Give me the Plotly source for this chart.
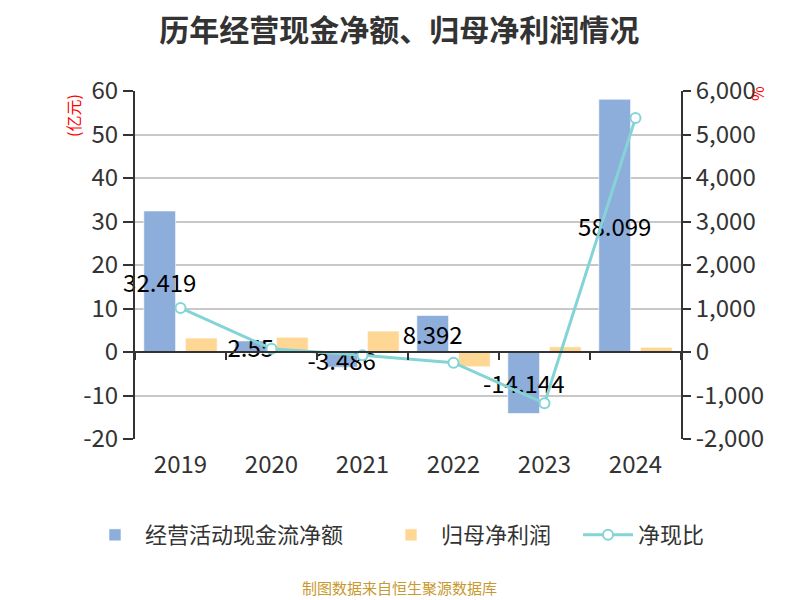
import plotly.graph_objects as go

years = ["2019", "2020", "2021", "2022", "2023", "2024"]
cash_flow = [32.419, 2.55, -3.486, 8.392, -14.144, 58.099]
net_profit = [3.2, 3.4, 4.8, -3.4, 1.2, 1.08]
ratio = [1013, 75, -73, -247, -1179, 5379]

left_ticks = [-20, -10, 0, 10, 20, 30, 40, 50, 60]
right_ticks = [-2000, -1000, 0, 1000, 2000, 3000, 4000, 5000, 6000]

FONT = "Noto Sans CJK SC"
TXT = "#333333"

fig = go.Figure()
fig.add_trace(go.Bar(
    x=years, y=cash_flow, name="经营活动现金流净额" + "\u2003\u2002",
    marker=dict(color="#8DADDB", line=dict(color="rgba(255,255,255,0.6)", width=1)),
    text=[f"{v:g}" for v in cash_flow], textposition="inside",
    insidetextanchor="middle", constraintext="none", textangle=0,
    textfont=dict(color="#000000", size=24, family=FONT),
    cliponaxis=False,
))
fig.add_trace(go.Bar(
    x=years, y=net_profit, name="归母净利润" + "\u2003",
    marker=dict(color="#FFD794", line=dict(color="rgba(255,255,255,0.6)", width=1)),
))
fig.add_trace(go.Scatter(
    x=years, y=ratio, name="净现比", yaxis="y2", mode="lines+markers",
    line=dict(color="#84D4D7", width=3),
    marker=dict(size=10, color="#FFFFFF", line=dict(color="#84D4D7", width=2)),
))
# invisible trace to carry the zero-line axis
fig.add_trace(go.Scatter(x=years, y=[0]*len(years), xaxis="x2", yaxis="y",
                         mode="lines", line=dict(width=0), showlegend=False,
                         hoverinfo="skip"))

fig.update_layout(
    width=800, height=600,
    margin=dict(l=127, r=127, t=83, b=169),
    plot_bgcolor="white", paper_bgcolor="white",
    font=dict(family=FONT, color=TXT, size=22),
    title=dict(text="<b>历年经营现金净额、归母净利润情况</b>", x=0.489, xanchor="center",
               y=0.962, yanchor="middle", font=dict(size=30, color=TXT, family=FONT)),
    barmode="group", bargap=0.086, bargroupgap=0.236,
    xaxis=dict(type="category", categoryorder="array", categoryarray=years,
               range=[-0.5, 5.5], showline=False, showgrid=False, zeroline=False,
               ticks="outside", ticklen=4, tickcolor="rgba(0,0,0,0)",
               tickfont=dict(size=24, color=TXT), automargin=False),
    xaxis2=dict(type="category", categoryorder="array", categoryarray=years,
                range=[-0.5, 5.5], overlaying="x", anchor="free", position=0.25,
                showline=True, linecolor=TXT, linewidth=2, ticks="outside",
                tickson="boundaries", ticklen=7, tickwidth=2, tickcolor=TXT,
                showticklabels=False, showgrid=False, zeroline=False),
    yaxis=dict(range=[-20, 60], tickvals=left_ticks, ticktext=[str(v) for v in left_ticks],
               showline=True, linecolor=TXT,
               linewidth=2, ticks="outside", ticklen=10, tickwidth=2, tickcolor=TXT,
               showgrid=True, gridcolor="#C8C8C8", gridwidth=1.5, zeroline=False,
               tickfont=dict(size=24, color=TXT), automargin=False),
    yaxis2=dict(range=[-2000, 6000], tickvals=right_ticks,
                ticktext=[f"{v:,}" for v in right_ticks],
                overlaying="y", side="right",
                showline=True, linecolor=TXT, linewidth=2, ticks="outside", ticklen=8,
                tickwidth=2, tickcolor=TXT, showgrid=False, zeroline=False,
                tickfont=dict(size=24, color=TXT), automargin=False),
    legend=dict(orientation="h", x=-0.0916, xanchor="left", y=-0.276, yanchor="middle",
                font=dict(size=22, color=TXT), itemwidth=50, traceorder="normal"),
    showlegend=True,
)

fig.add_annotation(text="(亿元)", xref="paper", yref="paper", x=-0.1136, y=0.931,
                   xanchor="center", yanchor="middle",
                   textangle=-90, showarrow=False, font=dict(size=16, color="#FF0000"))
fig.add_annotation(text="%", xref="paper", yref="paper", x=1.139, y=0.994,
                   xanchor="center", yanchor="middle",
                   textangle=-90, showarrow=False, font=dict(size=16, color="#FF0000"))
fig.add_annotation(text="制图数据来自恒生聚源数据库", xref="paper", yref="paper",
                   x=0.4853, y=-0.428, xanchor="center", yanchor="middle", showarrow=False,
                   font=dict(size=15, color="#C8992F"))

fig.write_html("out.html")
